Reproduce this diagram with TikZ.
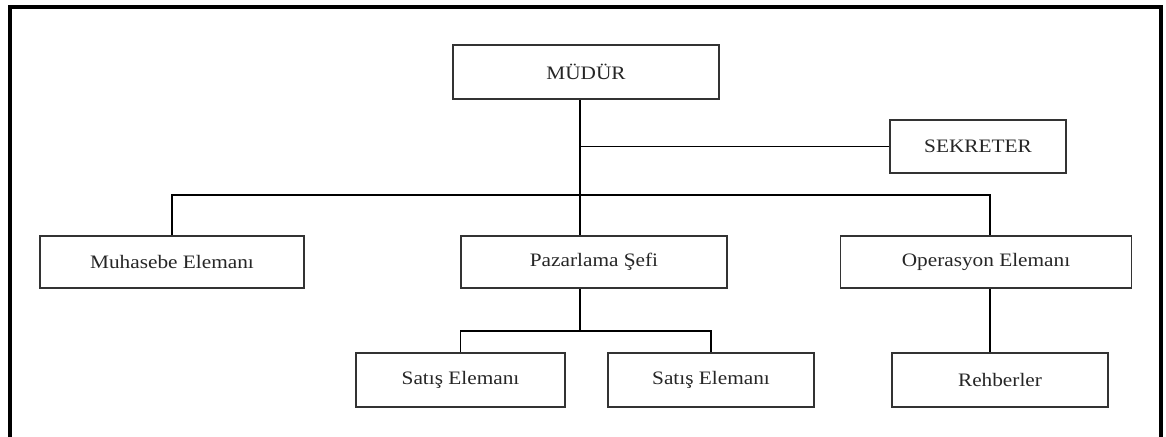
\documentclass[tikz,border=0pt]{standalone}
\usepackage{fontspec}
\setmainfont[FakeStretch=1.12]{Liberation Serif}
\begin{document}
\begin{tikzpicture}[x=1pt,y=-1pt,
  box/.style={draw=black!80,line width=1.8pt,rectangle,inner sep=0pt,
    font=\fontsize{19}{21}\selectfont,text=black!85},
  conn/.style={draw=black,line width=1.4pt}]
\useasboundingbox (0,0) rectangle (1166,436);
\fill[white] (0,0) rectangle (1166,436);
\draw[line width=4pt,line cap=rect] (10,440) -- (10,7) -- (1161,7) -- (1161,440);
\node[box,minimum width=266pt,minimum height=54pt] (mudur) at (586,72) {MÜDÜR};
\node[box,minimum width=176pt,minimum height=53pt] (sekreter) at (978,146.5) {SEKRETER};
\node[box,minimum width=264pt,minimum height=52pt] (muhasebe) at (172,262) {Muhasebe Elemanı};
\node[box,minimum width=266pt,minimum height=52pt] (pazarlama) at (594,262) {Pazarlama Şefi};
\node[box,minimum width=291pt,minimum height=52pt] (operasyon) at (986,262) {Operasyon Elemanı};
\node[box,minimum width=209pt,minimum height=54pt] (satis1) at (460.5,380) {Satış Elemanı};
\node[box,minimum width=206pt,minimum height=54pt] (satis2) at (711,380) {Satış Elemanı};
\node[box,minimum width=216pt,minimum height=54pt] (rehber) at (1000,380) {Rehberler};
\coordinate (tk) at (580,195);
\coordinate (sb) at (580,331);
\coordinate (ox) at (990,0);
\draw[conn] (tk |- mudur.south) -- (tk |- pazarlama.north);
\draw[conn] (tk |- sekreter.west) -- (sekreter.west);
\draw[conn] (muhasebe.north) |- (tk) -| (ox |- operasyon.north);
\draw[conn] (tk |- pazarlama.south) -- (sb);
\draw[conn] (satis1.north) |- (sb) -| (satis2.north);
\draw[conn] (ox |- operasyon.south) -- (ox |- rehber.north);
\end{tikzpicture}
\end{document}
